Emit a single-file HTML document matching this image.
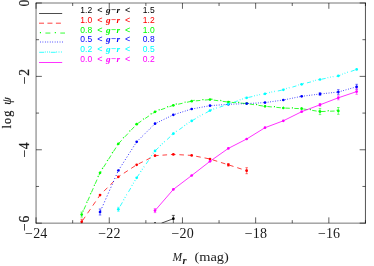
<!DOCTYPE html>
<html><head><meta charset="utf-8"><title>plot</title><style>
html,body{margin:0;padding:0;background:#fff;overflow:hidden}
svg{display:block;will-change:transform}
.lg text{font-family:"Liberation Sans",sans-serif;font-size:8.5px;}
.lg .it{font-family:"Liberation Serif",serif;font-style:italic;font-weight:bold;font-size:9.2px;letter-spacing:0.2px}
.tk{font-family:"Liberation Serif",serif;font-size:14px;fill:#1a1a1a;letter-spacing:0.15px}
.ax{font-family:"Liberation Serif",serif;font-size:13.5px;fill:#1a1a1a;}
.rt{font-size:13.6px;letter-spacing:0.7px;stroke:#2a2a2a;stroke-width:0.25px}
.lb{font-size:12.2px;stroke:#1a1a1a;stroke-width:0.2px}
.its{font-style:italic}
.sub{font-style:italic;font-weight:bold;font-size:10.5px}
</style></head><body>
<svg width="374" height="266" viewBox="0 0 374 266">
<defs><clipPath id="cp"><rect x="36.06" y="3.0" width="329.39" height="220.15"/></clipPath></defs>
<rect width="374" height="266" fill="#fff"/>
<g clip-path="url(#cp)">
<path d="M161.50 223.15 L173.35 218.70" stroke="#000" stroke-width="0.7" fill="none"/>
<path d="M173.35 215.4 V223.15 M171.85 215.4 h3" stroke="#000" stroke-width="0.6" fill="none"/>
<circle cx="173.35" cy="218.7" r="1.35" fill="#000"/>
<circle cx="155.02" cy="222.7" r="0.8" fill="#000"/>
<path d="M82.32 220.90 L85.17 216.75 M87.56 213.27 L90.41 209.12 M92.79 205.64 L95.64 201.49 M98.03 198.02 L100.03 195.10 L101.06 194.07 M103.97 191.17 L107.44 187.70 M110.35 184.79 L113.83 181.33 M116.73 178.42 L118.36 176.80 L120.49 175.41 M123.83 173.22 L127.83 170.60 M131.17 168.41 L135.17 165.79 M138.62 163.84 L142.84 161.74 M146.38 159.99 L150.60 157.89 M154.14 156.14 L155.02 155.70 L158.65 155.44 M162.49 155.17 L167.09 154.84 M170.93 154.57 L173.35 154.40 L175.52 154.52 M179.37 154.73 L183.96 154.98 M187.81 155.19 L191.68 155.40 L192.39 155.54 M196.19 156.29 L200.72 157.18 M204.52 157.92 L209.05 158.81 M212.78 159.88 L217.22 161.28 M220.93 162.46 L225.37 163.86 M229.08 165.04 L233.51 166.46 M237.22 167.66 L241.64 169.08 M245.35 170.28 L246.67 170.70" stroke="#ff0000" stroke-width="0.75" fill="none"/>
<path d="M81.7 219.30 V224.30 M80.45 219.30 h2.5 M80.45 224.30 h2.5 M228.34 163.50 V166.10 M227.09 163.50 h2.5 M227.09 166.10 h2.5 M246.67 167.70 V173.70 M245.42 167.70 h2.5 M245.42 173.70 h2.5" stroke="#ff0000" stroke-width="0.55" fill="none"/>
<g fill="#ff0000"><circle cx="81.7" cy="221.8" r="1.35"/><circle cx="100.03" cy="195.1" r="1.35"/><circle cx="118.36" cy="176.8" r="1.35"/><circle cx="136.69" cy="164.8" r="1.35"/><circle cx="155.02" cy="155.7" r="1.35"/><circle cx="173.35" cy="154.4" r="1.35"/><circle cx="191.68" cy="155.4" r="1.35"/><circle cx="210.01" cy="159.0" r="1.35"/><circle cx="228.34" cy="164.8" r="1.35"/><circle cx="246.67" cy="170.7" r="1.35"/></g>
<path d="M83.87 209.64 L85.76 205.35 M87.64 201.06 L89.52 196.76 M91.40 192.47 L93.29 188.18 M95.17 183.89 L97.05 179.60 M98.93 175.31 L100.03 172.80 L101.07 171.16 M103.55 167.22 L106.04 163.29 M108.53 159.35 L111.02 155.41 M113.51 151.48 L116.00 147.54 M118.52 143.63 L121.67 140.26 M124.82 136.89 L127.98 133.52 M131.13 130.15 L134.28 126.77 M137.58 123.60 L141.37 121.04 M145.15 118.48 L148.93 115.92 M152.72 113.36 L155.02 111.80 L156.69 111.21 M160.95 109.70 L165.21 108.19 M169.48 106.67 L173.35 105.30 L173.75 105.21 M178.15 104.23 L182.55 103.24 M186.96 102.26 L191.36 101.27 M195.84 100.84 L200.32 100.45 M204.80 100.05 L209.29 99.66 M213.76 100.11 L218.22 100.72 M222.68 101.33 L227.14 101.94 M231.62 102.37 L236.11 102.74 M240.60 103.10 L245.08 103.47 M249.55 104.02 L254.01 104.68 M258.46 105.34 L262.92 105.99 M267.39 106.52 L271.87 106.94 M276.35 107.35 L280.84 107.77 M285.33 108.08 L289.82 108.25 M294.32 108.42 L298.82 108.59 M303.30 108.96 L307.75 109.66 M312.20 110.37 L316.65 111.07 M321.11 111.56 L325.60 111.39 M330.10 111.21 L334.60 111.04" stroke="#00ff00" stroke-width="0.8" fill="none"/>
<path d="M82.85 211.43 L83.31 210.38 M86.61 202.84 L87.07 201.79 M90.38 194.26 L90.84 193.21 M94.14 185.68 L94.60 184.63 M97.91 177.09 L98.37 176.04 M102.20 168.82 L102.81 167.86 M107.18 160.94 L107.78 159.98 M112.15 153.07 L112.76 152.11 M117.13 145.20 L117.74 144.23 M123.11 138.17 L123.88 137.35 M129.41 131.43 L130.18 130.61 M135.72 124.69 L136.49 123.86 M143.09 119.32 L144.01 118.69 M150.66 114.20 L151.58 113.58 M158.63 109.97 L159.67 109.60 M167.16 106.95 L168.20 106.58 M175.76 104.21 L176.83 103.97 M184.56 102.24 L185.64 102.00 M193.39 100.50 L194.49 100.40 M202.36 99.72 L203.46 99.62 M211.33 99.23 L212.42 99.38 M220.25 100.45 L221.34 100.60 M229.18 101.62 L230.28 101.71 M238.15 102.35 L239.25 102.44 M247.12 103.12 L248.21 103.28 M256.04 104.43 L257.12 104.59 M264.95 105.74 L265.00 105.75 L266.04 105.85 M273.91 106.58 L275.01 106.68 M282.88 107.41 L283.33 107.45 L283.98 107.47 M291.87 107.78 L292.97 107.82 M300.86 108.12 L301.66 108.15 L301.96 108.20 M309.77 109.43 L310.86 109.61 M318.67 110.84 L319.76 111.01 M327.65 110.76 L328.75 110.72 M336.65 110.41 L337.75 110.37" stroke="#00ff00" stroke-width="1.25" fill="none"/>
<path d="M81.7 212.10 V217.10 M80.45 212.10 h2.5 M80.45 217.10 h2.5 M319.99 108.60 V114.60 M318.74 108.60 h2.5 M318.74 114.60 h2.5 M338.32 107.50 V114.30 M337.07 107.50 h2.5 M337.07 114.30 h2.5" stroke="#00ff00" stroke-width="0.55" fill="none"/>
<g fill="#00ff00"><circle cx="81.7" cy="214.6" r="1.35"/><circle cx="100.03" cy="172.8" r="1.35"/><circle cx="118.36" cy="143.8" r="1.35"/><circle cx="136.69" cy="124.2" r="1.35"/><circle cx="155.02" cy="111.8" r="1.35"/><circle cx="173.35" cy="105.3" r="1.35"/><circle cx="191.68" cy="101.2" r="1.35"/><circle cx="210.01" cy="99.6" r="1.35"/><circle cx="228.34" cy="102.1" r="1.35"/><circle cx="246.67" cy="103.6" r="1.35"/><circle cx="265.0" cy="106.3" r="1.35"/><circle cx="283.33" cy="108.0" r="1.35"/><circle cx="301.66" cy="108.7" r="1.35"/><circle cx="319.99" cy="111.6" r="1.35"/><circle cx="338.32" cy="110.9" r="1.35"/></g>
<path d="M100.46 211.02 L100.86 210.12 M101.75 208.10 L102.15 207.21 M103.04 205.18 L103.44 204.29 M104.33 202.27 L104.72 201.37 M105.62 199.35 L106.01 198.46 M106.91 196.43 L107.30 195.54 M108.20 193.51 L108.59 192.62 M109.48 190.60 L109.88 189.70 M110.77 187.68 L111.17 186.79 M112.06 184.76 L112.46 183.87 M113.35 181.84 L113.74 180.95 M114.64 178.93 L115.03 178.03 M115.93 176.01 L116.32 175.12 M117.21 173.09 L117.61 172.20 M118.54 170.22 L119.04 169.43 M120.17 167.66 L120.67 166.88 M121.81 165.10 L122.31 164.32 M123.44 162.54 L123.94 161.76 M125.07 159.99 L125.57 159.21 M126.71 157.43 L127.21 156.65 M128.34 154.87 L128.84 154.09 M129.97 152.32 L130.47 151.53 M131.61 149.76 L132.11 148.98 M133.24 147.20 L133.74 146.42 M134.87 144.65 L135.37 143.86 M136.51 142.09 L136.69 141.80 L137.08 141.42 M138.47 140.05 L139.08 139.44 M140.47 138.07 L141.08 137.46 M142.47 136.09 L143.08 135.49 M144.47 134.12 L145.08 133.51 M146.47 132.14 L147.09 131.53 M148.48 130.16 L149.09 129.56 M150.48 128.18 L151.09 127.58 M152.48 126.21 L153.09 125.60 M154.48 124.23 L155.02 123.70 L155.11 123.66 M156.71 122.88 L157.42 122.53 M159.03 121.75 L159.74 121.41 M161.34 120.63 L162.05 120.29 M163.66 119.51 L164.37 119.16 M165.97 118.38 L166.68 118.04 M168.29 117.26 L169.00 116.91 M170.60 116.13 L171.31 115.79 M172.92 115.01 L173.35 114.80 L173.63 114.71 M175.29 114.19 L176.02 113.95 M177.68 113.43 L178.41 113.20 M180.07 112.67 L180.80 112.44 M182.46 111.92 L183.19 111.69 M184.85 111.16 L185.58 110.93 M187.24 110.40 L187.97 110.17 M189.63 109.65 L190.36 109.42 M192.03 108.94 L192.77 108.80 M194.46 108.50 L195.20 108.37 M196.89 108.06 L197.63 107.93 M199.32 107.63 L200.06 107.49 M201.75 107.19 L202.49 107.05 M204.18 106.75 L204.92 106.62 M206.61 106.31 L207.35 106.18 M209.04 105.88 L209.78 105.74 M211.48 105.59 L212.22 105.53 M213.92 105.40 L214.67 105.34 M216.37 105.21 L217.12 105.16 M218.81 105.03 L219.56 104.97 M221.26 104.84 L222.01 104.78 M223.71 104.65 L224.46 104.60 M226.15 104.47 L226.90 104.41 M228.60 104.29 L229.35 104.26 M231.05 104.20 L231.80 104.17 M233.50 104.10 L234.25 104.07 M235.95 104.01 L236.70 103.98 M238.40 103.92 L239.15 103.89 M240.85 103.82 L241.60 103.79 M243.29 103.73 L244.04 103.70 M245.74 103.64 L246.49 103.61 M248.19 103.52 L248.94 103.48 M250.64 103.38 L251.39 103.34 M253.09 103.25 L253.84 103.21 M255.54 103.12 L256.29 103.08 M257.99 102.98 L258.73 102.94 M260.43 102.85 L261.18 102.81 M262.88 102.72 L263.63 102.67 M265.33 102.55 L266.07 102.45 M267.77 102.21 L268.51 102.10 M270.20 101.86 L270.95 101.76 M272.64 101.52 L273.39 101.41 M275.08 101.17 L275.82 101.06 M277.52 100.82 L278.26 100.72 M279.95 100.48 L280.70 100.37 M282.39 100.13 L283.14 100.03 M284.82 99.70 L285.56 99.55 M287.25 99.21 L287.99 99.06 M289.67 98.72 L290.41 98.57 M292.10 98.23 L292.84 98.08 M294.52 97.74 L295.26 97.59 M296.95 97.25 L297.69 97.10 M299.37 96.76 L300.11 96.61 M301.80 96.28 L302.54 96.19 M304.24 95.98 L304.98 95.88 M306.68 95.67 L307.42 95.58 M309.12 95.36 L309.86 95.27 M311.56 95.06 L312.30 94.96 M314.00 94.75 L314.74 94.66 M316.44 94.45 L317.18 94.35 M318.88 94.14 L319.62 94.05 M321.32 93.86 L322.07 93.77 M323.76 93.59 L324.51 93.51 M326.20 93.32 L326.95 93.24 M328.65 93.06 L329.39 92.97 M331.09 92.79 L331.84 92.71 M333.53 92.52 L334.28 92.44 M335.97 92.26 L336.72 92.17 M338.42 91.97 L339.15 91.76 M340.82 91.29 L341.55 91.08 M343.22 90.61 L343.95 90.40 M345.62 89.93 L346.35 89.72 M348.02 89.25 L348.76 89.04 M350.42 88.57 L351.16 88.36 M352.82 87.89 L353.56 87.68 M355.22 87.20 L355.96 87.00" stroke="#0000ff" stroke-width="0.9" fill="none"/>
<path d="M100.03 209.00 V215.00 M98.78 209.00 h2.5 M98.78 215.00 h2.5 M319.99 92.70 V95.30 M318.74 92.70 h2.5 M318.74 95.30 h2.5 M338.32 89.70 V94.30 M337.07 89.70 h2.5 M337.07 94.30 h2.5 M356.65 84.30 V89.30 M355.40 84.30 h2.5 M355.40 89.30 h2.5" stroke="#0000ff" stroke-width="0.55" fill="none"/>
<g fill="#0000ff"><circle cx="100.03" cy="212" r="1.35"/><circle cx="118.36" cy="170.5" r="1.35"/><circle cx="136.69" cy="141.8" r="1.35"/><circle cx="155.02" cy="123.7" r="1.35"/><circle cx="173.35" cy="114.8" r="1.35"/><circle cx="191.68" cy="109" r="1.35"/><circle cx="210.01" cy="105.7" r="1.35"/><circle cx="228.34" cy="104.3" r="1.35"/><circle cx="246.67" cy="103.6" r="1.35"/><circle cx="265.0" cy="102.6" r="1.35"/><circle cx="283.33" cy="100.0" r="1.35"/><circle cx="301.66" cy="96.3" r="1.35"/><circle cx="319.99" cy="94.0" r="1.35"/><circle cx="338.32" cy="92.0" r="1.35"/><circle cx="356.65" cy="86.8" r="1.35"/></g>
<path d="M120.14 206.24 L122.42 202.32 M128.48 191.91 L130.76 187.99 M136.84 177.58 L139.37 173.87 M146.09 164.00 L148.62 160.29 M155.43 150.52 L158.60 147.54 M167.05 139.61 L170.22 136.63 M179.22 129.60 L182.72 127.15 M192.06 120.69 L195.74 118.62 M205.54 113.11 L209.22 111.04 M219.59 107.20 L223.50 105.82 M233.93 102.18 L237.86 100.83 M248.35 97.43 L252.38 96.55 M263.08 94.22 L265.00 93.80 L267.11 93.34 M277.82 91.00 L281.85 90.12 M292.42 87.07 L296.39 85.88 M306.97 82.91 L310.97 81.86 M321.62 79.18 L325.66 78.39 M336.40 76.28 L338.32 75.90 L340.38 75.17 M350.80 71.48 L354.71 70.09" stroke="#00ffff" stroke-width="0.8" fill="none"/>
<path d="M123.53 200.11 L123.87 199.54 M124.92 197.72 L125.26 197.15 M126.42 195.14 L126.76 194.57 M131.87 185.78 L132.21 185.20 M133.26 183.39 L133.60 182.81 M134.77 180.81 L135.10 180.23 M140.60 171.76 L140.97 171.22 M142.14 169.50 L142.51 168.95 M143.81 167.05 L144.18 166.51 M149.85 158.18 L150.22 157.64 M151.40 155.92 L151.77 155.38 M153.06 153.48 L153.43 152.93 M160.15 145.78 L160.62 145.35 M162.09 143.97 L162.55 143.53 M164.18 142.00 L164.65 141.57 M171.77 134.88 L172.24 134.44 M173.75 133.12 L174.26 132.76 M176.06 131.51 L176.57 131.15 M184.43 125.66 L184.95 125.30 M186.57 124.17 L187.08 123.81 M188.88 122.56 L189.39 122.20 M197.54 117.31 L198.08 117.00 M199.79 116.05 L200.32 115.74 M202.21 114.68 L202.75 114.38 M211.08 109.92 L211.65 109.72 M213.47 109.07 L214.04 108.87 M216.05 108.16 L216.62 107.96 M225.41 104.84 L225.99 104.63 M227.80 103.99 L228.34 103.80 L228.38 103.79 M230.39 103.10 L230.96 102.90 M239.78 99.87 L240.35 99.67 M242.17 99.05 L242.75 98.85 M244.76 98.16 L245.34 97.96 M254.34 95.83 L254.93 95.70 M256.80 95.29 L257.39 95.16 M259.45 94.71 L260.04 94.58 M269.08 92.61 L269.67 92.48 M271.53 92.07 L272.12 91.95 M274.19 91.50 L274.78 91.37 M283.81 89.36 L284.39 89.18 M286.23 88.63 L286.81 88.46 M288.84 87.85 L289.42 87.67 M298.32 85.00 L298.90 84.83 M300.74 84.28 L301.32 84.10 M303.37 83.55 L303.95 83.40 M312.92 81.05 L313.51 80.90 M315.36 80.41 L315.94 80.26 M317.99 79.72 L318.58 79.57 M327.63 77.70 L328.22 77.58 M330.09 77.22 L330.69 77.10 M332.76 76.69 L333.35 76.58 M342.29 74.19 L342.86 73.99 M344.68 73.34 L345.25 73.14 M347.26 72.43 L347.83 72.23" stroke="#00ffff" stroke-width="1.3" fill="none"/>
<path d="M118.36 207.30 V211.30 M117.11 207.30 h2.5 M117.11 211.30 h2.5" stroke="#00ffff" stroke-width="0.55" fill="none"/>
<g fill="#00ffff"><circle cx="118.36" cy="209.3" r="1.35"/><circle cx="136.69" cy="177.8" r="1.35"/><circle cx="155.02" cy="150.9" r="1.35"/><circle cx="173.35" cy="133.7" r="1.35"/><circle cx="191.68" cy="120.9" r="1.35"/><circle cx="210.01" cy="110.6" r="1.35"/><circle cx="228.34" cy="104.1" r="1.35"/><circle cx="246.67" cy="97.8" r="1.35"/><circle cx="265.0" cy="93.8" r="1.35"/><circle cx="283.33" cy="89.8" r="1.35"/><circle cx="301.66" cy="84.3" r="1.35"/><circle cx="319.99" cy="79.5" r="1.35"/><circle cx="338.32" cy="75.9" r="1.35"/><circle cx="356.65" cy="69.4" r="1.35"/></g>
<path d="M155.02 210.60 L173.35 189.40 L191.68 175.50 L210.01 161.30 L228.34 148.40 L246.67 139.00 L265.00 127.70 L283.33 120.80 L301.66 111.70 L319.99 104.80 L338.32 97.80 L356.65 91.60" stroke="#ff00ff" stroke-width="0.8" fill="none"/>
<path d="M155.02 208.60 V212.60 M153.77 208.60 h2.5 M153.77 212.60 h2.5 M319.99 103.50 V106.10 M318.74 103.50 h2.5 M318.74 106.10 h2.5 M338.32 95.80 V99.80 M337.07 95.80 h2.5 M337.07 99.80 h2.5 M356.65 88.90 V94.30 M355.40 88.90 h2.5 M355.40 94.30 h2.5" stroke="#ff00ff" stroke-width="0.55" fill="none"/>
<g fill="#ff00ff"><circle cx="155.02" cy="210.6" r="1.35"/><circle cx="173.35" cy="189.4" r="1.35"/><circle cx="191.68" cy="175.5" r="1.35"/><circle cx="210.01" cy="161.3" r="1.35"/><circle cx="228.34" cy="148.4" r="1.35"/><circle cx="246.67" cy="139" r="1.35"/><circle cx="265.0" cy="127.7" r="1.35"/><circle cx="283.33" cy="120.8" r="1.35"/><circle cx="301.66" cy="111.7" r="1.35"/><circle cx="319.99" cy="104.8" r="1.35"/><circle cx="338.32" cy="97.8" r="1.35"/><circle cx="356.65" cy="91.6" r="1.35"/></g>
</g>
<path d="M36.06 223.15 v-5.8 M36.06 3.0 v5.8 M72.66 223.15 v-3 M72.66 3.0 v3 M109.26 223.15 v-5.8 M109.26 3.0 v5.8 M145.86 223.15 v-3 M145.86 3.0 v3 M182.46 223.15 v-5.8 M182.46 3.0 v5.8 M219.05 223.15 v-3 M219.05 3.0 v3 M255.65 223.15 v-5.8 M255.65 3.0 v5.8 M292.25 223.15 v-3 M292.25 3.0 v3 M328.85 223.15 v-5.8 M328.85 3.0 v5.8 M365.45 223.15 v-3 M365.45 3.0 v3 M36.06 3.0 h5.8 M365.45 3.0 h-5.8 M36.06 39.69 h3 M365.45 39.69 h-3 M36.06 76.38 h5.8 M365.45 76.38 h-5.8 M36.06 113.08 h3 M365.45 113.08 h-3 M36.06 149.77 h5.8 M365.45 149.77 h-5.8 M36.06 186.46 h3 M365.45 186.46 h-3 M36.06 223.15 h5.8 M365.45 223.15 h-5.8" stroke="#000" stroke-width="0.62" fill="none"/>
<path d="M36.06 2.7 V223.45000000000002" stroke="#000" stroke-width="0.56" fill="none"/>
<path d="M365.45 2.7 V223.45000000000002" stroke="#000" stroke-width="0.68" fill="none"/>
<path d="M35.760000000000005 3.0 H365.75" stroke="#000" stroke-width="0.54" fill="none"/>
<path d="M35.760000000000005 223.15 H365.75" stroke="#000" stroke-width="0.54" fill="none"/>
<path d="M39.10 13.50 L62.20 13.50" stroke="#000" stroke-width="0.7" fill="none"/>
<path d="M39.00 23.20 L44.00 23.20 M47.45 23.20 L52.45 23.20 M55.90 23.20 L60.90 23.20" stroke="#ff0000" stroke-width="0.75" fill="none"/>
<path d="M45.41 33.05 L50.36 33.05 M60.29 33.05 L65.00 33.05" stroke="#00ff00" stroke-width="0.8" fill="none"/>
<path d="M39.89 32.50 L40.99 32.50 M54.77 32.50 L55.87 32.50" stroke="#00ff00" stroke-width="1.25" fill="none"/>
<path d="M40.08 42.00 L40.83 42.00 M42.52 42.00 L43.28 42.00 M44.98 42.00 L45.73 42.00 M47.42 42.00 L48.17 42.00 M49.88 42.00 L50.62 42.00 M52.33 42.00 L53.08 42.00 M54.77 42.00 L55.52 42.00 M57.22 42.00 L57.97 42.00 M59.67 42.00 L60.42 42.00 M62.12 42.00 L62.88 42.00" stroke="#0000ff" stroke-width="0.9" fill="none"/>
<path d="M39.20 52.30 L44.15 52.30 M50.75 52.30 L55.70 52.30" stroke="#00ffff" stroke-width="0.8" fill="none"/>
<path d="M44.90 52.00 L45.50 52.00 M47.15 52.00 L47.75 52.00 M49.40 52.00 L50.00 52.00 M56.45 52.00 L57.05 52.00 M58.70 52.00 L59.30 52.00 M60.95 52.00 L61.55 52.00" stroke="#00ffff" stroke-width="1.3" fill="none"/>
<path d="M39.00 62.50 L62.20 62.50" stroke="#ff00ff" stroke-width="0.8" fill="none"/>
<g fill="#000" class="lg"><text x="80.3" y="13.0">1.2</text><text x="97.2" y="13.0" textLength="5.3" lengthAdjust="spacingAndGlyphs">&lt;</text><text x="106" y="13.0" class="it">g−r</text><text x="124.9" y="13.0" textLength="5.3" lengthAdjust="spacingAndGlyphs">&lt;</text><text x="142.8" y="13.0">1.5</text></g>
<g fill="#ff0000" class="lg"><text x="80.3" y="22.8">1.0</text><text x="97.2" y="22.8" textLength="5.3" lengthAdjust="spacingAndGlyphs">&lt;</text><text x="106" y="22.8" class="it">g−r</text><text x="124.9" y="22.8" textLength="5.3" lengthAdjust="spacingAndGlyphs">&lt;</text><text x="142.8" y="22.8">1.2</text></g>
<g fill="#00ff00" class="lg"><text x="80.3" y="32.6">0.8</text><text x="97.2" y="32.6" textLength="5.3" lengthAdjust="spacingAndGlyphs">&lt;</text><text x="106" y="32.6" class="it">g−r</text><text x="124.9" y="32.6" textLength="5.3" lengthAdjust="spacingAndGlyphs">&lt;</text><text x="142.8" y="32.6">1.0</text></g>
<g fill="#0000ff" class="lg"><text x="80.3" y="42.4">0.5</text><text x="97.2" y="42.4" textLength="5.3" lengthAdjust="spacingAndGlyphs">&lt;</text><text x="106" y="42.4" class="it">g−r</text><text x="124.9" y="42.4" textLength="5.3" lengthAdjust="spacingAndGlyphs">&lt;</text><text x="142.8" y="42.4">0.8</text></g>
<g fill="#00ffff" class="lg"><text x="80.3" y="52.2">0.2</text><text x="97.2" y="52.2" textLength="5.3" lengthAdjust="spacingAndGlyphs">&lt;</text><text x="106" y="52.2" class="it">g−r</text><text x="124.9" y="52.2" textLength="5.3" lengthAdjust="spacingAndGlyphs">&lt;</text><text x="142.8" y="52.2">0.5</text></g>
<g fill="#ff00ff" class="lg"><text x="80.3" y="62.0">0.0</text><text x="97.2" y="62.0" textLength="5.3" lengthAdjust="spacingAndGlyphs">&lt;</text><text x="106" y="62.0" class="it">g−r</text><text x="124.9" y="62.0" textLength="5.3" lengthAdjust="spacingAndGlyphs">&lt;</text><text x="142.8" y="62.0">0.2</text></g>
<text class="tk" x="36.3" y="238.1" text-anchor="middle">−24</text>
<text class="tk" x="109.5" y="238.1" text-anchor="middle">−22</text>
<text class="tk" x="182.7" y="238.1" text-anchor="middle">−20</text>
<text class="tk" x="255.9" y="238.1" text-anchor="middle">−18</text>
<text class="tk" x="329.1" y="238.1" text-anchor="middle">−16</text>
<text class="tk rt" transform="translate(28.5 2.8) rotate(-90)" text-anchor="middle">0</text>
<text class="tk rt" transform="translate(28.5 76.2) rotate(-90)" text-anchor="middle">−2</text>
<text class="tk rt" transform="translate(28.5 149.6) rotate(-90)" text-anchor="middle">−4</text>
<text class="tk rt" transform="translate(28.5 223.0) rotate(-90)" text-anchor="middle">−6</text>
<text class="ax its" x="172.6" y="261.1" style="font-size:11.5px">M</text><text class="ax sub" x="182.6" y="264.1">r</text><text class="ax" x="194.4" y="261.1" style="font-size:12px" textLength="34.4" lengthAdjust="spacingAndGlyphs">(mag)</text>
<text class="ax lb" transform="translate(10.9 128.6) rotate(-90)"><tspan x="0" style="letter-spacing:1.2px">log</tspan><tspan x="23.8" class="its">ψ</tspan></text>
</svg>
</body></html>
